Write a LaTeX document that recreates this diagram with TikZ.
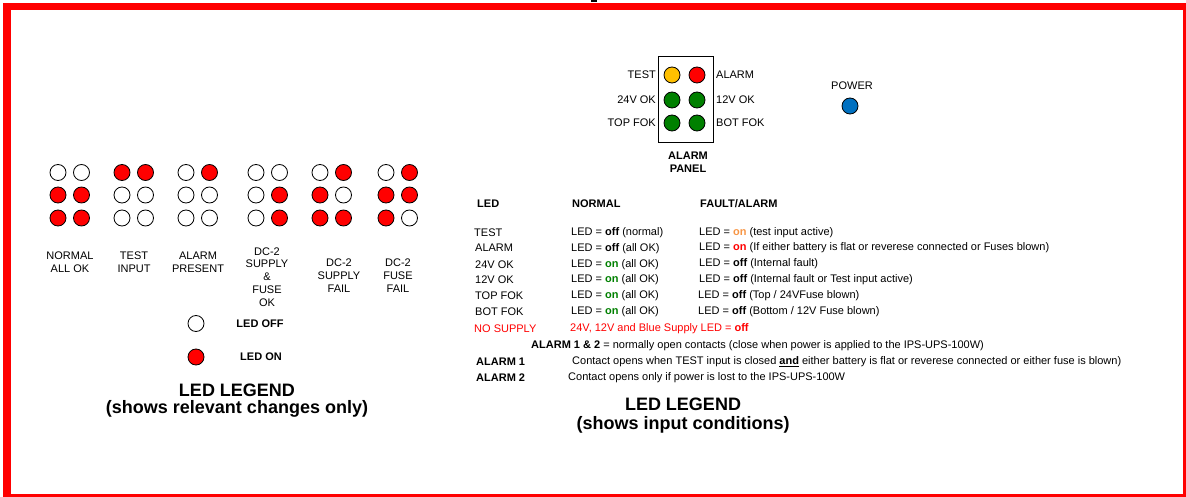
\documentclass[tikz,border=0pt]{standalone}
\usepackage{fontspec}
\setmainfont{Liberation Sans}
\definecolor{ledred}{HTML}{FF0000}
\definecolor{ledyel}{HTML}{FFC000}
\definecolor{ledgrn}{HTML}{008000}
\definecolor{ledblu}{HTML}{0070C0}
\definecolor{onorange}{HTML}{F79646}
\definecolor{ongreen}{HTML}{008000}
\definecolor{framered}{HTML}{FF0000}
\begin{document}
\begin{tikzpicture}[x=1pt,y=-1pt,
  led/.style={circle,draw=black,line width=0.8pt,minimum size=16pt,inner sep=0pt},
  l0/.style={led,fill=white},
  l1/.style={led,fill=ledred},
  txt/.style={font=\fontsize{11}{12.8}\selectfont,inner sep=0pt},
  btxt/.style={font=\fontsize{11}{12.8}\selectfont\bfseries,inner sep=0pt},
  big/.style={font=\fontsize{18}{20}\selectfont\bfseries,inner sep=0pt},
  cell/.style={txt,anchor=west},
  bcell/.style={btxt,anchor=west}]
\useasboundingbox (0,0) rectangle (1186,497);
% frame
\fill[framered] (3,3) rectangle (1186,10);
\fill[framered] (3,3) rectangle (11,497);
\fill[framered] (3,494) rectangle (1186,497);
\fill[framered] (1183,3) rectangle (1186,497);
\fill[black] (591,0) rectangle (597,2.5);
% LED groups
\foreach \x/\a/\b/\c/\d/\e/\f [count=\g] in {58/0/0/1/1/1/1,122/1/1/0/0/0/0,186/0/1/0/0/0/0,256/0/0/0/1/0/1,320/0/1/1/0/1/1,386/0/1/1/1/1/0}{
  \node[l\a] (g\g-a) at (\x,172.5) {};
  \node[l\b] (g\g-b) at (\x+23.5,172.5) {};
  \node[l\c] (g\g-c) at (\x,195) {};
  \node[l\d] (g\g-d) at (\x+23.5,195) {};
  \node[l\e] (g\g-e) at (\x,218) {};
  \node[l\f] (g\g-f) at (\x+23.5,218) {};
}
\node[txt,align=center] (lab1) at (70,262) {NORMAL\\ALL OK};
\node[txt,align=center] (lab2) at (134,262) {TEST\\INPUT};
\node[txt,align=center] (lab3) at (198,262) {ALARM\\PRESENT};
\node[txt,align=center] (lab4) at (267,277) {DC-2\\SUPPLY\\\&\\FUSE\\OK};
\node[txt,align=center] (lab5) at (339,275.5) {DC-2\\SUPPLY\\FAIL};
\node[txt,align=center] (lab6) at (398,275.5) {DC-2\\FUSE\\FAIL};
% left legend
\node[l0] (legoff) at (196,323.5) {};
\node[l1] (legon) at (196,357) {};
\node[btxt] (legofft) at (260,324) {LED OFF};
\node[btxt] (legont) at (261,357) {LED ON};
\node[big] (leg1a) at (237,390) {LED LEGEND};
\node[big] (leg1b) at (237,409) {(shows relevant changes only)};
% alarm panel
\node[draw,line width=0.8pt,minimum width=55pt,minimum height=86pt,inner sep=0pt] (panel) at (685.5,99) {};
\node[led,fill=ledyel] (ptest) at (672,75) {};
\node[led,fill=ledred] (palarm) at (697,75) {};
\node[led,fill=ledgrn] (p24) at (672,100) {};
\node[led,fill=ledgrn] (p12) at (697,100) {};
\node[led,fill=ledgrn] (ptop) at (672,123) {};
\node[led,fill=ledgrn] (pbot) at (697,123) {};
\node[txt,anchor=east] (ltest) at (656,75) {TEST};
\node[txt,anchor=east] (l24) at (656,100) {24V OK};
\node[txt,anchor=east] (ltop) at (656,123) {TOP FOK};
\node[txt,anchor=west] (lalarm) at (716,75) {ALARM};
\node[txt,anchor=west] (l12) at (716,100) {12V OK};
\node[txt,anchor=west] (lbot) at (716,123) {BOT FOK};
\node[btxt,align=center] (ptitle) at (688,162) {ALARM\\PANEL};
\node[txt] (powert) at (852,86) {POWER};
\node[led,fill=ledblu] (power) at (850,106) {};
% table
\node[bcell] (h1) at (477,204) {LED};
\node[bcell] (h2) at (572,204) {NORMAL};
\node[bcell] (h3) at (700,204) {FAULT/ALARM};
\node[cell] (r1a) at (474,232.5) {TEST};
\node[cell] (r1b) at (571,233) {LED = \textbf{off} (normal)};
\node[cell] (r1c) at (699,233) {LED = \textcolor{onorange}{\textbf{on}} (test input active)};
\node[cell] (r2a) at (475,247.5) {ALARM};
\node[cell] (r2b) at (571,248.5) {LED = \textbf{off} (all OK)};
\node[cell] (r2c) at (699,247.5) {LED = \textcolor{ledred}{\textbf{on}} (If either battery is flat or reverese connected or Fuses blown)};
\node[cell] (r3a) at (475,264.5) {24V OK};
\node[cell] (r3b) at (571,264.5) {LED = \textcolor{ongreen}{\textbf{on}} (all OK)};
\node[cell] (r3c) at (699,263.5) {LED = \textbf{off} (Internal fault)};
\node[cell] (r4a) at (475,280) {12V OK};
\node[cell] (r4b) at (571,280) {LED = \textcolor{ongreen}{\textbf{on}} (all OK)};
\node[cell] (r4c) at (699,279.5) {LED = \textbf{off} (Internal fault or Test input active)};
\node[cell] (r5a) at (475,296) {TOP FOK};
\node[cell] (r5b) at (571,296) {LED = \textcolor{ongreen}{\textbf{on}} (all OK)};
\node[cell] (r5c) at (698,295.5) {LED = \textbf{off} (Top / 24VFuse blown)};
\node[cell] (r6a) at (475,312) {BOT FOK};
\node[cell] (r6b) at (571,312) {LED = \textcolor{ongreen}{\textbf{on}} (all OK)};
\node[cell] (r6c) at (698,311.5) {LED = \textbf{off} (Bottom / 12V Fuse blown)};
\node[cell,text=ledred] (r7a) at (474,329) {NO SUPPLY};
\node[cell,text=ledred] (r7b) at (570,329) {24V, 12V and Blue Supply LED = \textbf{off}};
\node[cell] (al12) at (531,346) {\textbf{ALARM 1 \& 2} = normally open contacts (close when power is applied to the IPS-UPS-100W)};
\node[bcell] (al1) at (476,362) {ALARM 1};
\node[cell] (al1t) at (572,362) {Contact opens when TEST input is closed \textbf{\underline{and}} either battery is flat or reverese connected or either fuse is blown)};
\node[bcell] (al2) at (476,378) {ALARM 2};
\node[cell] (al2t) at (568,378) {Contact opens only if power is lost to the IPS-UPS-100W};
\node[big] (leg2a) at (683,404) {LED LEGEND};
\node[big] (leg2b) at (683,425) {(shows input conditions)};
\end{tikzpicture}
\end{document}
